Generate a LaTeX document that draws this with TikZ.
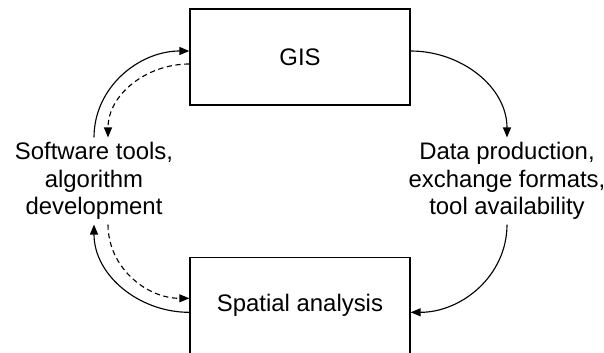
\documentclass[tikz,border=0pt]{standalone}
\usepackage{fontspec}
\setmainfont{Liberation Sans}
\usetikzlibrary{arrows.meta, positioning, calc}
\tikzset{
  box/.style={draw, line width=0.9pt, minimum width=5.5cm, minimum height=2.4cm, font=\fontsize{17}{19.5}\selectfont},
  lbl/.style={align=center, font=\fontsize{17}{19.5}\selectfont},
  arr/.style={-{Triangle[length=2.5mm, width=2mm]}, line width=0.8pt},
  dasharr/.style={arr, dash pattern=on 1.3mm off 0.9mm},
}

\begin{document}
\begin{tikzpicture}[x=0.025cm, y=-0.025cm, node distance=3.775cm]
  \useasboundingbox (0,0) rectangle (604,353);
  \node[box] (gis) at (300,57) {GIS};
  \node[box, below=of gis] (sa) {Spatial analysis};
  \node[lbl] (sw) at (94,181) {Software tools,\\algorithm\\development};
  \node[lbl] (dp) at (507,181) {Data production,\\exchange formats,\\tool availability};
  % right side, one way
  \draw[arr] ([yshift=0.15cm]gis.east) to[out=0, in=90] (dp.north);
  \draw[arr] (dp.south) to[out=-90, in=0] ([yshift=-0.175cm]sa.east);
  % left side, both ways
  \draw[arr] ([yshift=-0.175cm]sa.west) to[out=180, in=-90] (sw.south);
  \draw[dasharr] ([xshift=0.35cm]sw.south) to[out=-90, in=180] ([yshift=0.175cm]sa.west);
  \draw[arr] (sw.north) to[out=90, in=180] ([yshift=0.15cm]gis.west);
  \draw[dasharr] ([yshift=-0.175cm]gis.west) to[out=180, in=90] ([xshift=0.35cm]sw.north);
\end{tikzpicture}
\end{document}
